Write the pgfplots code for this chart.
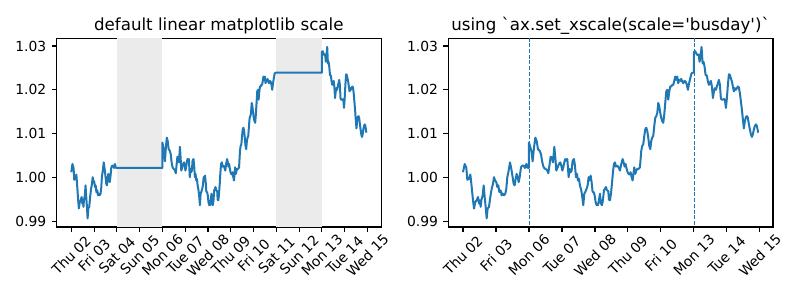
\documentclass[border=0pt]{standalone}
\usepackage{pgfplots}
\usepackage{pgfplotstable}
\usepackage{fontspec}
\setmainfont{DejaVu Sans}[Ligatures=TeXOff]
\pgfplotsset{compat=1.18}
\definecolor{C0}{RGB}{31,119,180}
\definecolor{wkend}{RGB}{235,235,235}

% cal = calendar days since Thu 02, bday = business days since Thu 02, y = value
\pgfplotstableread{
cal bday y
0.000 0.000 1.00120
0.051 0.051 1.00308
0.101 0.101 1.00217
0.131 0.131 0.99947
0.182 0.182 0.99969
0.222 0.222 1.00067
0.253 0.253 0.99856
0.303 0.303 0.99480
0.333 0.333 0.99292
0.374 0.374 0.99442
0.414 0.414 0.99480
0.455 0.455 0.99555
0.485 0.485 0.99405
0.515 0.515 0.99480
0.535 0.535 0.99330
0.556 0.556 0.99480
0.596 0.596 0.99593
0.626 0.626 0.99819
0.657 0.657 0.99555
0.687 0.687 0.99330
0.717 0.717 0.99066
0.747 0.747 0.99292
0.788 0.788 0.99330
0.828 0.828 0.99555
0.869 0.869 0.99743
0.909 0.909 0.99856
0.939 0.939 1.00007
0.970 0.970 0.99932
1.010 1.010 0.99894
1.040 1.040 0.99781
1.071 1.071 0.99819
1.101 1.101 0.99668
1.141 1.141 0.99706
1.172 1.172 0.99593
1.202 1.202 0.99631
1.242 1.242 0.99593
1.283 1.283 0.99631
1.313 1.313 0.99743
1.343 1.343 1.00007
1.384 1.384 1.00157
1.424 1.424 1.00345
1.465 1.465 1.00195
1.505 1.505 1.00007
1.535 1.535 0.99856
1.566 1.566 0.99819
1.596 1.596 0.99969
1.626 1.626 1.00082
1.657 1.657 1.00007
1.687 1.687 0.99894
1.717 1.717 1.00007
1.758 1.758 1.00232
1.798 1.798 1.00270
1.838 1.838 1.00270
1.879 1.879 1.00217
1.919 1.919 1.00308
1.949 1.949 1.00232
1.980 1.980 1.00217
2.000 2.000 1.00217
4.000 2.000 1.00217
4.000 2.000 1.00797
4.071 2.071 1.00609
4.111 2.111 1.00368
4.152 2.152 1.00684
4.192 2.192 1.00910
4.232 2.232 1.00834
4.273 2.273 1.00646
4.323 2.323 1.00609
4.364 2.364 1.00533
4.404 2.404 1.00345
4.444 2.444 1.00232
4.495 2.495 1.00195
4.545 2.545 1.00172
4.586 2.586 1.00097
4.626 2.626 1.00308
4.657 2.657 1.00473
4.697 2.697 1.00458
4.727 2.727 1.00345
4.768 2.768 1.00699
4.798 2.798 1.00458
4.828 2.828 1.00157
4.869 2.869 1.00232
4.909 2.909 1.00308
4.949 2.949 1.00345
4.980 2.980 1.00270
5.010 3.010 1.00157
5.040 3.040 1.00232
5.071 3.071 1.00345
5.101 3.101 1.00421
5.131 3.131 1.00383
5.162 3.162 1.00421
5.202 3.202 1.00007
5.232 3.232 1.00195
5.263 3.263 1.00120
5.293 3.293 1.00157
5.323 3.323 1.00383
5.364 3.364 1.00421
5.394 3.394 1.00270
5.424 3.424 1.00007
5.455 3.455 1.00082
5.485 3.485 0.99932
5.515 3.515 0.99969
5.545 3.545 0.99819
5.586 3.586 0.99706
5.616 3.616 0.99555
5.646 3.646 0.99367
5.677 3.677 0.99631
5.707 3.707 0.99668
5.747 3.747 0.99743
5.778 3.778 0.99819
5.808 3.808 1.00007
5.838 3.838 0.99932
5.869 3.869 1.00044
5.899 3.899 0.99894
5.929 3.929 0.99668
5.960 3.960 0.99668
5.990 3.990 0.99593
6.020 4.020 0.99442
6.051 4.051 0.99367
6.091 4.091 0.99367
6.121 4.121 0.99480
6.152 4.152 0.99631
6.182 4.182 0.99405
6.212 4.212 0.99367
6.242 4.242 0.99480
6.273 4.273 0.99706
6.303 4.303 0.99743
6.333 4.333 0.99781
6.364 4.364 0.99706
6.404 4.404 0.99691
6.424 4.424 0.99495
6.455 4.455 0.99480
6.485 4.485 0.99631
6.515 4.515 0.99856
6.545 4.545 1.00120
6.576 4.576 1.00308
6.606 4.606 1.00345
6.636 4.636 1.00248
6.677 4.677 1.00270
6.717 4.717 1.00232
6.758 4.758 1.00157
6.798 4.798 1.00308
6.838 4.838 1.00421
6.869 4.869 1.00345
6.899 4.899 1.00248
6.929 4.929 1.00308
6.960 4.960 1.00195
6.990 4.990 1.00120
7.020 5.020 1.00082
7.051 5.051 1.00067
7.081 5.081 1.00120
7.111 5.111 1.00007
7.141 5.141 0.99932
7.172 5.172 1.00120
7.192 5.192 1.00232
7.222 5.222 1.00082
7.253 5.253 1.00157
7.283 5.283 1.00195
7.323 5.323 1.00195
7.364 5.364 1.00232
7.404 5.404 1.00609
7.434 5.434 1.00722
7.465 5.465 1.00759
7.495 5.495 1.00947
7.525 5.525 1.01098
7.556 5.556 1.01135
7.586 5.586 1.01060
7.616 5.616 1.00910
7.646 5.646 1.00722
7.677 5.677 1.00646
7.707 5.707 1.00834
7.737 5.737 1.00910
7.768 5.768 1.00947
7.798 5.798 1.01173
7.828 5.828 1.01361
7.859 5.859 1.01399
7.889 5.889 1.01474
7.919 5.919 1.01700
7.949 5.949 1.01624
7.980 5.980 1.01474
8.010 6.010 1.01361
8.040 6.040 1.01286
8.071 6.071 1.01248
8.101 6.101 1.01436
8.131 6.131 1.01700
8.162 6.162 1.01963
8.192 6.192 1.02001
8.222 6.222 1.01775
8.253 6.253 1.01963
8.283 6.283 1.02076
8.313 6.313 1.02076
8.343 6.343 1.02114
8.374 6.374 1.02114
8.404 6.404 1.02204
8.434 6.434 1.02302
8.465 6.465 1.02226
8.495 6.495 1.02302
8.525 6.525 1.02151
8.556 6.556 1.02226
8.586 6.586 1.02204
8.616 6.616 1.02249
8.646 6.646 1.02189
8.677 6.677 1.02151
8.717 6.717 1.02204
8.747 6.747 1.02189
8.788 6.788 1.02114
8.818 6.818 1.02001
8.848 6.848 1.02129
8.889 6.889 1.02264
8.929 6.929 1.02377
8.970 6.970 1.02390
9.000 7.000 1.02390
11.000 7.000 1.02390
11.000 7.000 1.02866
11.040 7.040 1.02881
11.071 7.071 1.02828
11.111 7.111 1.02790
11.141 7.141 1.02805
11.172 7.172 1.02640
11.202 7.202 1.02790
11.232 7.232 1.02979
11.263 7.263 1.02603
11.293 7.293 1.02640
11.323 7.323 1.02527
11.354 7.354 1.02339
11.394 7.394 1.02324
11.424 7.424 1.02189
11.455 7.455 1.02114
11.485 7.485 1.02151
11.515 7.515 1.02204
11.545 7.545 1.02076
11.576 7.576 1.01813
11.606 7.606 1.01963
11.636 7.636 1.02038
11.667 7.667 1.02001
11.697 7.697 1.02076
11.727 7.727 1.02151
11.758 7.758 1.02226
11.788 7.788 1.02114
11.818 7.818 1.01797
11.848 7.848 1.01775
11.879 7.879 1.01775
11.909 7.909 1.01790
11.939 7.939 1.01775
11.970 7.970 1.01587
12.000 8.000 1.01813
12.030 8.030 1.02114
12.061 8.061 1.02354
12.091 8.091 1.02339
12.121 8.121 1.02264
12.152 8.152 1.02189
12.182 8.182 1.02076
12.212 8.212 1.01963
12.242 8.242 1.02038
12.273 8.273 1.02001
12.303 8.303 1.02038
12.333 8.333 1.02076
12.364 8.364 1.02053
12.394 8.394 1.01925
12.424 8.424 1.01737
12.455 8.455 1.01549
12.485 8.485 1.01323
12.515 8.515 1.01120
12.545 8.545 1.01286
12.576 8.576 1.01376
12.606 8.606 1.01399
12.636 8.636 1.01361
12.667 8.667 1.01211
12.697 8.697 1.01098
12.727 8.727 1.00985
12.758 8.758 1.00925
12.788 8.788 1.00985
12.818 8.818 1.01098
12.848 8.848 1.01173
12.879 8.879 1.01211
12.909 8.909 1.01173
12.949 8.949 1.01023
}\datatable

\pgfplotsset{
  mpl/.style={
    scale only axis,
    height=141.5pt,
    width=243.4pt,
    ymin=0.9887, ymax=1.03175,
    ytick={0.99,1.00,1.01,1.02,1.03},
    axis line style={line width=0.83pt},
    tick style={line width=0.83pt, black},
    tick align=outside,
    major tick length=3.65pt,
    xtick pos=bottom, ytick pos=left,
    /pgf/number format/assume math mode=true,
    yticklabel style={/pgf/number format/fixed, /pgf/number format/fixed zerofill, /pgf/number format/precision=2},
    ticklabel style={font=\fontsize{10.4}{12}\selectfont},
    yticklabel style={anchor=east, inner sep=0pt, xshift=-3.9pt},
    xticklabel style={inner sep=0pt, anchor=center, yshift=-17.5pt, rotate=45},
    every axis title shift=0pt,
    title style={font=\fontsize{12.5}{15}\selectfont, at={(0.5,1)}, anchor=base, yshift=6.2pt},
    clip=true,
  },
}

\begin{document}
\begin{tikzpicture}
\path[use as bounding box] (0,0) rectangle (600pt,225pt);

\begin{axis}[mpl,
  at={(42.4pt,54.75pt)}, anchor=south west,
  xmin=-0.647, xmax=13.596,
  xtick={0,1,2,3,4,5,6,7,8,9,10,11,12,13},
  xticklabels={Thu 02,Fri 03,Sat 04,Sun 05,Mon 06,Tue 07,Wed 08,Thu 09,Fri 10,Sat 11,Sun 12,Mon 13,Tue 14,Wed 15},
  title={default linear matplotlib scale},
]
\addplot[draw=none, fill=wkend] coordinates {(2,0.98) (2,1.04) (4,1.04) (4,0.98)} -- cycle;
\addplot[draw=none, fill=wkend] coordinates {(9,0.98) (9,1.04) (11,1.04) (11,0.98)} -- cycle;
\addplot[C0, line width=1.5pt, line join=round] table[x=cal, y=y] {\datatable};
\end{axis}

\begin{axis}[mpl,
  at={(336.2pt,54.75pt)}, anchor=south west,
  width=243.5pt,
  xmin=-0.447, xmax=9.396,
  xtick={0,1,2,3,4,5,6,7,8,9},
  xticklabels={Thu 02,Fri 03,Mon 06,Tue 07,Wed 08,Thu 09,Fri 10,Mon 13,Tue 14,Wed 15},
  title={using \textasciigrave ax.set\_xscale(scale=\textquotesingle busday\textquotesingle)\textasciigrave},
]
\addplot[C0, line width=0.6pt, dash pattern=on 3pt off 1.3pt] coordinates {(2,0.98) (2,1.04)};
\addplot[C0, line width=0.6pt, dash pattern=on 3pt off 1.3pt] coordinates {(7,0.98) (7,1.04)};
\addplot[C0, line width=1.5pt, line join=round] table[x=bday, y=y] {\datatable};
\end{axis}
\end{tikzpicture}
\end{document}
